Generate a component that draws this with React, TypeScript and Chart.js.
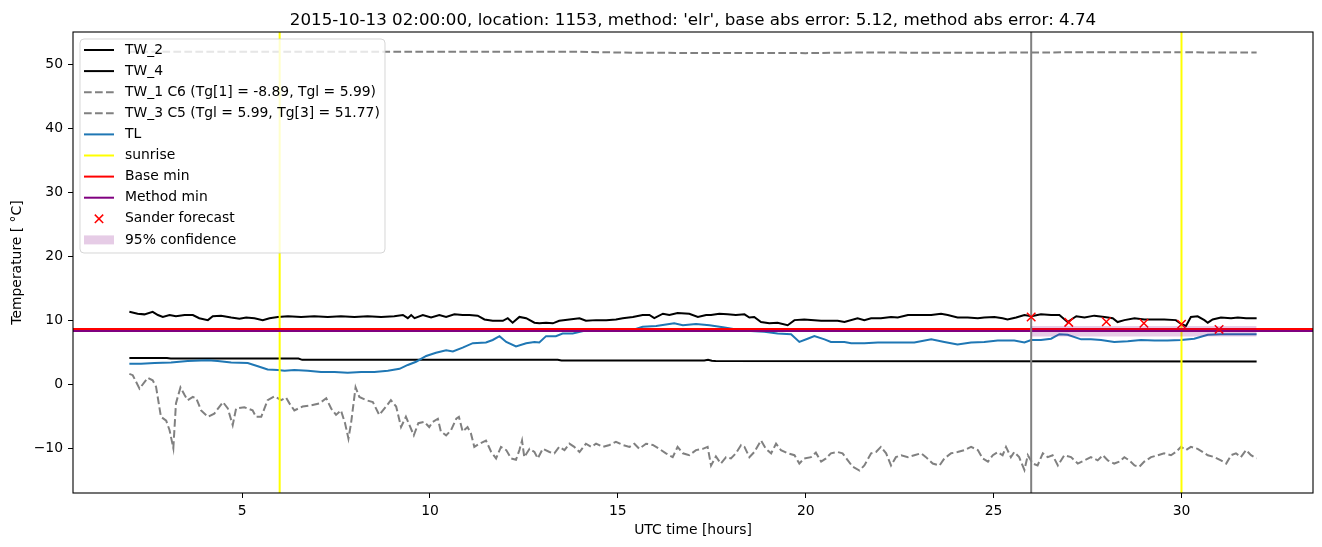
import React, { useEffect, useRef } from "react";
import { Chart, registerables } from "chart.js";

Chart.register(...registerables);

const FONT = "'DejaVu Sans', sans-serif";

const titleText =
  "2015-10-13 02:00:00, location: 1153, method: 'elr', base abs error: 5.12, method abs error: 4.74";
const xLabel = "UTC time [hours]";
const yLabel = "Temperature [ °C]";

const xRange = [0.5, 33.5];
const yRange = [-17, 55];
const xTickValues = [5, 10, 15, 20, 25, 30];
const yTickValues = [-10, 0, 10, 20, 30, 40, 50];

// TW_2 (upper black)
const tw2Hours = [
  2.0, 2.22, 2.4, 2.62, 2.76, 2.89, 3.07, 3.24, 3.47, 3.69, 3.86, 4.09, 4.22, 4.44, 4.71, 4.93, 5.11, 5.33, 5.55, 5.73,
  5.95, 6.22, 6.57, 6.92, 7.28, 7.63, 7.99, 8.34, 8.7, 9.05, 9.28, 9.41, 9.5, 9.59, 9.81, 10.03, 10.25, 10.43, 10.65,
  10.87, 11.05, 11.27, 11.45, 11.67, 11.94, 12.07, 12.2, 12.38, 12.56, 12.78, 12.91, 13.09, 13.27, 13.44, 13.71, 13.98,
  14.15, 14.42, 14.69, 14.95, 15.13, 15.4, 15.66, 15.84, 15.97, 16.2, 16.37, 16.59, 16.9, 17.13, 17.35, 17.48, 17.7,
  17.92, 18.14, 18.37, 18.5, 18.63, 18.81, 19.03, 19.25, 19.52, 19.7, 19.96, 20.41, 20.85, 21.03, 21.38, 21.56, 21.74,
  22.0, 22.27, 22.45, 22.72, 22.98, 23.34, 23.6, 23.78, 24.04, 24.31, 24.58, 24.75, 25.02, 25.24, 25.37, 25.6, 25.82,
  26.01, 26.26, 26.53, 26.75, 26.97, 27.2, 27.42, 27.68, 27.95, 28.17, 28.3, 28.48, 28.75, 29.01, 29.28, 29.54, 29.85,
  29.99, 30.12, 30.25, 30.43, 30.61, 30.7, 30.83, 31.05, 31.32, 31.5, 31.72, 32.0,
];
const tw2Values = [
  11.3, 11.0, 10.9, 11.3, 10.8, 10.5, 10.8, 10.6, 10.8, 10.8, 10.3, 10.0, 10.6, 10.7, 10.4, 10.2, 10.4, 10.3, 10.0, 10.3,
  10.5, 10.6, 10.5, 10.6, 10.5, 10.6, 10.5, 10.6, 10.5, 10.6, 10.8, 10.3, 10.8, 10.3, 10.8, 10.4, 10.8, 10.5, 10.9,
  10.8, 10.8, 10.7, 10.1, 9.9, 9.9, 10.3, 9.6, 10.5, 10.3, 9.6, 9.5, 9.6, 9.5, 9.9, 10.1, 10.3,
  9.9, 10.0, 10.0, 10.1, 10.3, 10.5, 10.8, 10.8, 10.3, 11.0, 10.8, 11.1, 11.0, 10.5, 10.8, 10.8, 11.0,
  10.9, 10.8, 10.9, 10.4, 10.5, 9.7, 9.5, 9.6, 9.2, 10.0, 10.1, 9.9, 9.9, 9.7, 10.3, 10.0, 10.3,
  10.3, 10.5, 10.4, 10.8, 10.8, 10.8, 11.0, 10.8, 10.4, 10.4, 10.3, 10.4, 10.5, 10.3, 10.1, 10.4, 10.8,
  10.6, 10.9, 10.8, 10.8, 9.7, 10.6, 10.4, 10.7, 10.5, 10.3, 9.7, 10.0, 10.3, 10.1, 10.1, 10.1, 10.0,
  9.4, 9.1, 10.5, 10.6, 10.0, 9.6, 10.1, 10.4, 10.3, 10.4, 10.3, 10.3,
];

// TW_4 (lower black)
const tw4Hours = [2.0, 3.0, 3.1, 6.5, 6.6, 13.4, 13.5, 17.3, 17.4, 17.5, 17.6, 32.0];
const tw4Values = [4.1, 4.1, 4.0, 4.0, 3.8, 3.8, 3.7, 3.7, 3.8, 3.65, 3.6, 3.55];

// TW_1 (grey dashed, lower)
const tw1Hours = [
  2.0, 2.09, 2.27, 2.49, 2.62, 2.71, 2.84, 2.98, 3.07, 3.17, 3.24, 3.36, 3.47, 3.55, 3.69, 3.78, 3.91, 4.09, 4.26, 4.49,
  4.62, 4.75, 4.84, 5.06, 5.28, 5.37, 5.51, 5.68, 5.86, 6.04, 6.17, 6.26, 6.39, 6.61, 6.84, 7.06, 7.24, 7.37, 7.5, 7.63,
  7.74, 7.83, 7.9, 8.02, 8.12, 8.3, 8.48, 8.65, 8.83, 8.96, 9.1, 9.23, 9.36, 9.57, 9.69, 9.85, 9.98, 10.07, 10.21,
  10.29, 10.43, 10.56, 10.7, 10.77, 10.87, 11.0, 11.09, 11.18, 11.32, 11.49, 11.63, 11.76, 11.89, 12.03, 12.16, 12.29,
  12.38, 12.45, 12.51, 12.65, 12.78, 12.87, 13.0, 13.18, 13.31, 13.44, 13.58, 13.71, 13.84, 13.98, 14.15, 14.29, 14.42,
  14.6, 14.78, 14.95, 15.13, 15.31, 15.44, 15.57, 15.75, 15.93, 16.1, 16.28, 16.46, 16.59, 16.73, 16.9, 17.08, 17.26,
  17.39, 17.48, 17.61, 17.74, 17.88, 18.01, 18.14, 18.28, 18.37, 18.5, 18.63, 18.81, 18.94, 19.08, 19.21, 19.34, 19.52,
  19.7, 19.83, 19.96, 20.14, 20.27, 20.41, 20.54, 20.67, 20.85, 20.98, 21.12, 21.25, 21.43, 21.56, 21.74, 21.87, 22.0,
  22.14, 22.27, 22.4, 22.54, 22.72, 22.89, 23.07, 23.2, 23.38, 23.56, 23.69, 23.87, 24.04, 24.22, 24.4, 24.58, 24.71,
  24.85, 24.98, 25.11, 25.24, 25.33, 25.46, 25.55, 25.68, 25.82, 25.91, 26.04, 26.17, 26.31, 26.44, 26.57, 26.71, 26.88,
  27.06, 27.24, 27.42, 27.59, 27.77, 27.91, 28.04, 28.21, 28.35, 28.48, 28.61, 28.75, 28.88, 29.01, 29.19, 29.37, 29.54,
  29.72, 29.85, 29.99, 30.12, 30.25, 30.43, 30.57, 30.7, 30.88, 31.05, 31.19, 31.32, 31.45, 31.58, 31.72, 31.85, 32.0,
];
const tw1Values = [
  1.6, 1.4, -0.7, 1.0, 0.6, -0.4, -5.1, -5.7, -7.2, -10.0, -3.0, -0.5, -1.7, -2.5, -2.0, -2.2, -4.1, -5.1, -4.6, -2.8,
  -3.8, -6.4, -3.8, -3.6, -4.1, -5.1, -5.1, -2.5, -1.9, -2.5, -2.1, -3.0, -4.1, -3.5, -3.3, -3.0, -2.2, -3.8, -4.8, -4.1,
  -6.1, -8.5, -6.1, -0.5, -2.0, -2.5, -2.8, -4.8, -3.5, -2.5, -3.5, -6.7, -5.1, -8.0, -6.1, -5.9, -6.7, -5.9, -5.4,
  -7.4, -8.0, -7.2, -5.4, -5.1, -7.4, -6.7, -7.7, -9.8, -9.3, -8.8, -10.6, -11.6, -9.8, -10.3, -11.6, -11.8,
  -10.3, -8.8, -11.4, -10.1, -10.6, -11.6, -10.1, -10.6, -10.8, -9.8, -10.3, -9.3, -9.8, -10.6, -9.3, -9.8, -9.3,
  -9.8, -9.5, -9.0, -9.5, -9.8, -9.3, -10.1, -9.3, -9.5, -10.1, -10.8, -11.4, -9.8, -10.8, -11.1, -10.3, -10.1,
  -9.8, -12.7, -11.3, -12.4, -11.4, -11.6, -10.8, -9.5, -9.8, -11.4, -10.6, -8.8, -10.1, -10.8, -9.3, -10.3, -10.8,
  -11.1, -12.4, -11.6, -11.4, -10.7, -12.1, -11.6, -10.8, -10.6, -10.8, -11.9, -12.9, -13.5, -12.7, -10.8, -10.6, -9.8,
  -10.8, -12.7, -11.4, -11.1, -11.4, -11.1, -10.8, -11.4, -12.4, -12.7, -11.6, -10.8, -10.6, -10.3, -9.8, -10.3, -11.6,
  -12.1, -11.1, -10.6, -11.1, -9.8, -11.4, -10.6, -11.4, -13.4, -11.1, -12.4, -12.7, -10.8, -11.4, -11.1, -12.7, -11.1,
  -11.4, -12.4, -11.9, -11.4, -11.9, -11.1, -11.9, -12.4, -12.1, -11.4, -11.9, -12.7, -12.9, -12.1, -11.4, -11.1, -10.8,
  -11.1, -10.6, -9.8, -10.3, -9.8, -10.1, -10.6, -11.1, -11.4, -11.9, -12.4, -11.1, -10.8, -11.4, -10.3, -11.1, -11.6,
];

// TW_3 (grey dashed, upper)
const tw3Hours = [2.0, 8.0, 14.0, 15.5, 20.0, 21.5, 24.0, 26.0, 28.0, 32.0];
const tw3Values = [51.9, 51.9, 51.9, 51.75, 51.7, 51.8, 51.75, 51.8, 51.85, 51.8];

// TL (blue)
const tlHours = [
  2.0, 2.31, 2.67, 3.11, 3.55, 4.09, 4.35, 4.71, 5.15, 5.42, 5.68, 5.95, 6.13, 6.39, 6.75, 7.1, 7.46, 7.81, 8.17, 8.52,
  8.88, 9.19, 9.41, 9.63, 9.9, 10.16, 10.43, 10.61, 10.87, 11.14, 11.49, 11.67, 11.85, 12.03, 12.29, 12.56, 12.78, 12.91,
  13.09, 13.35, 13.53, 13.8, 14.02, 14.24, 14.6, 14.95, 15.31, 15.66, 16.02, 16.37, 16.5, 16.73, 17.08, 17.44, 17.84,
  18.19, 18.54, 18.9, 19.25, 19.61, 19.83, 20.05, 20.23, 20.5, 20.67, 21.03, 21.21, 21.56, 21.92, 22.45, 22.89, 23.34,
  23.69, 24.04, 24.4, 24.75, 25.11, 25.55, 25.82, 26.0, 26.26, 26.53, 26.75, 26.97, 27.33, 27.59, 27.86, 28.21, 28.57,
  28.92, 29.28, 29.63, 29.99, 30.34, 30.7, 31.05, 31.41, 32.0,
];
const tlValues = [
  3.2, 3.2, 3.3, 3.4, 3.6, 3.75, 3.6, 3.4, 3.3, 2.8, 2.3, 2.2, 2.1, 2.2, 2.1, 1.9, 1.9, 1.8, 1.9, 1.9,
  2.1, 2.4, 3.0, 3.5, 4.4, 4.9, 5.3, 5.1, 5.7, 6.4, 6.5, 6.9, 7.5, 6.6, 5.9, 6.4, 6.6, 6.5,
  7.5, 7.5, 7.9, 7.9, 8.2, 8.5, 8.5, 8.3, 8.3, 8.96, 9.1, 9.4, 9.5, 9.2, 9.4, 9.2, 8.85,
  8.5, 8.3, 8.2, 7.9, 7.8, 6.6, 7.1, 7.5, 7.0, 6.6, 6.6, 6.4, 6.4, 6.5, 6.5, 6.5, 7.0,
  6.6, 6.2, 6.5, 6.6, 6.8, 6.8, 6.5, 6.9, 6.9, 7.1, 7.8, 7.7, 7.0, 7.0, 6.9, 6.6, 6.7,
  6.9, 6.8, 6.8, 6.9, 7.1, 7.7, 7.8, 7.8, 7.8,
];

const sunriseHours = [6, 30];
const forecastStartHour = 26;
const baseMin = 8.62;
const methodMin = 8.3;
const forecastHours = [26, 27, 28, 29, 30, 31];
const forecastValues = [10.5, 9.65, 9.75, 9.5, 9.35, 8.55];
const confidenceHours = [26, 32];
const confidenceLower = [7.45, 7.45];
const confidenceUpper = [9.1, 9.1];

const legendItems = [
  { label: "TW_2", kind: "line", color: "#000000" },
  { label: "TW_4", kind: "line", color: "#000000" },
  { label: "TW_1 C6 (Tg[1] = -8.89, Tgl = 5.99)", kind: "dash", color: "#808080" },
  { label: "TW_3 C5 (Tgl = 5.99, Tg[3] = 51.77)", kind: "dash", color: "#808080" },
  { label: "TL", kind: "line", color: "#1f77b4" },
  { label: "sunrise", kind: "line", color: "#ffff00" },
  { label: "Base min", kind: "line", color: "#ff0000" },
  { label: "Method min", kind: "line", color: "#800080" },
  { label: "Sander forecast", kind: "marker", color: "#ff0000" },
  { label: "95% confidence", kind: "patch", color: "rgba(128,0,128,0.2)" },
];

const DASH = [7.7, 3.3];

const pts = (xs: number[], ys: number[]) => xs.map((x, i) => ({ x, y: ys[i] }));

const fmtTick = (v: number) => (v < 0 ? "\u2212" + String(-v) : String(v));

const titlePlugin = {
  id: "axesTitle",
  afterDraw(chart: any) {
    const { ctx, chartArea: a } = chart;
    ctx.save();
    ctx.font = `16.7px ${FONT}`;
    ctx.fillStyle = "#000";
    ctx.textAlign = "center";
    ctx.textBaseline = "alphabetic";
    ctx.fillText(titleText, (a.left + a.right) / 2, a.top - 7.5);
    ctx.restore();
  },
};

const framePlugin = {
  id: "frame",
  afterDatasetsDraw(chart: any) {
    const { ctx, chartArea: a } = chart;
    ctx.save();
    ctx.strokeStyle = "#000";
    ctx.lineWidth = 1.1;
    ctx.strokeRect(a.left, a.top, a.right - a.left, a.bottom - a.top);
    ctx.restore();
  },
};

const legendPlugin = {
  id: "customLegend",
  afterDraw(chart: any) {
    const { ctx, chartArea: a } = chart;
    const x0 = a.left + 7;
    const y0 = a.top + 7;
    const w = 305;
    const h = 214;
    ctx.save();
    ctx.beginPath();
    ctx.roundRect(x0, y0, w, h, 4);
    ctx.fillStyle = "rgba(255,255,255,0.8)";
    ctx.fill();
    ctx.strokeStyle = "rgba(204,204,204,0.8)";
    ctx.lineWidth = 1;
    ctx.stroke();
    ctx.font = `13.9px ${FONT}`;
    ctx.textBaseline = "middle";
    ctx.textAlign = "left";
    const hx0 = a.left + 11;
    const hx1 = a.left + 41;
    legendItems.forEach((it, i) => {
      const cy = y0 + 11 + i * 21.1;
      ctx.save();
      if (it.kind === "line" || it.kind === "dash") {
        ctx.strokeStyle = it.color;
        ctx.lineWidth = 2;
        ctx.setLineDash(it.kind === "dash" ? DASH : []);
        ctx.beginPath();
        ctx.moveTo(hx0, cy);
        ctx.lineTo(hx1, cy);
        ctx.stroke();
      } else if (it.kind === "marker") {
        const cx = (hx0 + hx1) / 2;
        const r = 4.2;
        ctx.strokeStyle = it.color;
        ctx.lineWidth = 1.5;
        ctx.beginPath();
        ctx.moveTo(cx - r, cy - r);
        ctx.lineTo(cx + r, cy + r);
        ctx.moveTo(cx - r, cy + r);
        ctx.lineTo(cx + r, cy - r);
        ctx.stroke();
      } else {
        ctx.fillStyle = it.color;
        ctx.fillRect(hx0, cy - 4.5, hx1 - hx0, 9);
      }
      ctx.restore();
      ctx.fillStyle = "#000";
      ctx.fillText(it.label, a.left + 52, cy);
    });
    ctx.restore();
  },
};

export default function App() {
  const canvasRef = useRef<HTMLCanvasElement | null>(null);

  useEffect(() => {
    const canvas = canvasRef.current;
    if (!canvas) return;

    const vline = (x: number) => [
      { x, y: yRange[0] },
      { x, y: yRange[1] },
    ];
    const hline = (y: number) => [
      { x: xRange[0], y },
      { x: xRange[1], y },
    ];

    const specs: any[] = [
      { data: pts(tw2Hours, tw2Values), borderColor: "#000000", borderWidth: 2 },
      { data: pts(tw4Hours, tw4Values), borderColor: "#000000", borderWidth: 2 },
      { data: pts(tw1Hours, tw1Values), borderColor: "#808080", borderWidth: 2, borderDash: DASH },
      { data: pts(tw3Hours, tw3Values), borderColor: "#808080", borderWidth: 2, borderDash: DASH },
      { data: pts(tlHours, tlValues), borderColor: "#1f77b4", borderWidth: 2 },
      ...sunriseHours.map((h) => ({ data: vline(h), borderColor: "#ffff00", borderWidth: 2 })),
      { data: hline(baseMin), borderColor: "#ff0000", borderWidth: 2 },
      { data: hline(methodMin), borderColor: "#800080", borderWidth: 2 },
      { data: vline(forecastStartHour), borderColor: "#808080", borderWidth: 2 },
      {
        data: pts(forecastHours, forecastValues),
        showLine: false,
        pointStyle: "crossRot",
        pointRadius: 6,
        pointBorderColor: "#ff0000",
        pointBorderWidth: 1.5,
        borderColor: "#ff0000",
      },
      { data: pts(confidenceHours, confidenceLower), borderWidth: 0, borderColor: "rgba(0,0,0,0)", fill: false },
      {
        data: pts(confidenceHours, confidenceUpper),
        borderWidth: 0,
        borderColor: "rgba(0,0,0,0)",
        backgroundColor: "rgba(128,0,128,0.2)",
        fill: "-1",
      },
    ];
    const n = specs.length;
    const datasets = specs.map((s, i) => ({
      pointRadius: 0,
      tension: 0,
      fill: false,
      order: n - i,
      ...s,
    }));

    const chart = new Chart(canvas, {
      type: "line",
      data: { datasets },
      plugins: [framePlugin, legendPlugin, titlePlugin],
      options: {
        animation: false,
        responsive: false,
        devicePixelRatio: 1,
        events: [],
        layout: { padding: { left: 0, right: 9, top: 32, bottom: 0 } },
        plugins: {
          legend: { display: false },
          tooltip: { enabled: false },
          title: { display: false },
        },
        scales: {
          x: {
            type: "linear",
            min: xRange[0],
            max: xRange[1],
            afterBuildTicks: (scale: any) => {
              scale.ticks = xTickValues.map((v) => ({ value: v }));
            },
            afterFit: (scale: any) => {
              scale.height = 54;
            },
            border: { display: false },
            grid: {
              display: true,
              drawOnChartArea: false,
              drawTicks: true,
              tickLength: 5,
              color: "#000",
              tickColor: "#000",
              tickWidth: 1,
            },
            ticks: {
              color: "#000",
              font: { family: FONT, size: 13.9 },
              padding: 5,
              maxRotation: 0,
              autoSkip: false,
              callback: (v: any) => fmtTick(Number(v)),
            },
            title: {
              display: true,
              text: xLabel,
              color: "#000",
              font: { family: FONT, size: 13.9, lineHeight: 1.2 },
              padding: { top: 0, bottom: 8.7 },
            },
          },
          y: {
            type: "linear",
            min: yRange[0],
            max: yRange[1],
            afterBuildTicks: (scale: any) => {
              scale.ticks = yTickValues.map((v) => ({ value: v }));
            },
            afterFit: (scale: any) => {
              scale.width = 73;
            },
            border: { display: false },
            grid: {
              display: true,
              drawOnChartArea: false,
              drawTicks: true,
              tickLength: 5,
              color: "#000",
              tickColor: "#000",
              tickWidth: 1,
            },
            ticks: {
              color: "#000",
              font: { family: FONT, size: 13.9 },
              padding: 5,
              autoSkip: false,
              callback: (v: any) => fmtTick(Number(v)),
            },
            title: {
              display: true,
              text: yLabel,
              color: "#000",
              font: { family: FONT, size: 13.9, lineHeight: 1.2 },
              padding: { top: 9.2, bottom: 0 },
            },
          },
        },
      } as any,
    });

    return () => chart.destroy();
  }, []);

  return (
    <div style={{ position: "absolute", left: 0, top: 0, width: 1322, height: 547, background: "#fff" }}>
      <canvas ref={canvasRef} width={1322} height={547} style={{ display: "block" }} />
    </div>
  );
}
